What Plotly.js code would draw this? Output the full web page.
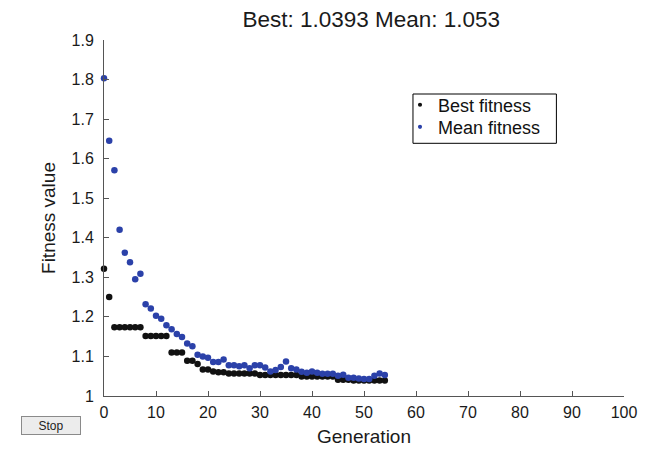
<!DOCTYPE html>
<html>
<head>
<meta charset="utf-8">
<script src="https://cdn.plot.ly/plotly-3.0.1.min.js"></script>
<style>html,body{margin:0;padding:0;background:#fff;}#chart{width:654px;height:453px;}</style>
</head>
<body>
<div id="chart"></div>
<script>
// Generations 0..54
const generations = [];
for (let g = 0; g <= 54; g++) generations.push(g);

const bestFitness = [
  1.322, 1.250,
  1.174, 1.174, 1.174, 1.174, 1.174, 1.174,
  1.152, 1.152, 1.152, 1.152, 1.152,
  1.110, 1.110, 1.110,
  1.089, 1.089,
  1.081,
  1.067, 1.067,
  1.062,
  1.060, 1.060,
  1.057, 1.057, 1.057, 1.057, 1.057, 1.057,
  1.053, 1.053, 1.053, 1.053, 1.053, 1.053, 1.053, 1.053,
  1.049, 1.049, 1.049, 1.049, 1.049, 1.049, 1.049,
  1.041, 1.041, 1.041,
  1.0393, 1.0393, 1.0393, 1.0393, 1.0393, 1.0393, 1.0393
];

const meanFitness = [
  1.803, 1.645, 1.571, 1.420, 1.362, 1.338, 1.295, 1.309, 1.232, 1.221,
  1.203, 1.195, 1.179, 1.169, 1.157, 1.149, 1.133, 1.126, 1.104, 1.100,
  1.097, 1.086, 1.086, 1.092, 1.078, 1.078, 1.075, 1.078, 1.070, 1.078,
  1.078, 1.072, 1.062, 1.066, 1.073, 1.087, 1.070, 1.067, 1.061, 1.059,
  1.062, 1.059, 1.056, 1.056, 1.056, 1.051, 1.054, 1.046, 1.046, 1.044,
  1.043, 1.043, 1.051, 1.057, 1.053
];

const seriesNames = ['Best fitness', 'Mean fitness'];
const chartTitle = 'Best: 1.0393 Mean: 1.053';
const xTicks = [0, 10, 20, 30, 40, 50, 60, 70, 80, 90, 100];
const yTicks = [1, 1.1, 1.2, 1.3, 1.4, 1.5, 1.6, 1.7, 1.8, 1.9];
const yTickText = ['1', '1.1', '1.2', '1.3', '1.4', '1.5', '1.6', '1.7', '1.8', '1.9'];

const BLACK = '#111111';
const BLUE = '#2b41a9';
const FONT = 'Liberation Sans, Arial, Helvetica, sans-serif';
const TEXT = '#1a1a1a';

const traces = [
  {x: generations, y: bestFitness, mode: 'markers', type: 'scatter', name: seriesNames[0],
   showlegend: false, marker: {color: BLACK, size: 6.5}, cliponaxis: false},
  {x: generations, y: meanFitness, mode: 'markers', type: 'scatter', name: seriesNames[1],
   showlegend: false, marker: {color: BLUE, size: 6.5}, cliponaxis: false}
];

const axisCommon = {
  showgrid: false, zeroline: false, showline: true, linecolor: '#555', linewidth: 1,
  ticks: 'inside', ticklen: 5, tickcolor: '#555', tickwidth: 1,
  tickfont: {family: FONT, size: 16, color: TEXT}, mirror: false
};

// legend box geometry (paper coords)
const LX0 = 0.5942, LX1 = 0.870, LY0 = 0.7098, LY1 = 0.8483;
const legendRowsY = [0.816, 0.754];
const legendColors = [BLACK, BLUE];

const shapes = [
  {type: 'rect', xref: 'paper', yref: 'paper', x0: LX0, x1: LX1, y0: LY0, y1: LY1,
   line: {color: '#000', width: 1}, fillcolor: '#fff', layer: 'above'}
];
const annotations = [];
seriesNames.forEach((name, i) => {
  const cy = legendRowsY[i] + 0.002;
  shapes.push({type: 'circle', xref: 'paper', yref: 'paper',
    x0: 0.6077 - 0.0040, x1: 0.6077 + 0.0040, y0: cy - 0.0058, y1: cy + 0.0058,
    fillcolor: legendColors[i], line: {width: 0}, layer: 'above'});
  annotations.push({text: name, xref: 'paper', yref: 'paper', x: 0.6392, y: legendRowsY[i],
    xanchor: 'left', yanchor: 'middle', showarrow: false,
    font: {family: FONT, size: 18, color: '#111'}});
});
annotations.push({
  text: 'Stop', xref: 'paper', yref: 'paper', x: -0.101, y: -0.0829,
  xanchor: 'center', yanchor: 'middle', showarrow: false,
  font: {family: FONT, size: 12, color: '#222'},
  bgcolor: '#ececec', bordercolor: '#8a8a8a', borderwidth: 1, width: 56, height: 15
});

const layout = {
  width: 654, height: 453,
  margin: {l: 104, r: 30, t: 40, b: 57},
  paper_bgcolor: '#fff', plot_bgcolor: '#fff',
  font: {family: FONT, color: TEXT},
  showlegend: false,
  title: {text: chartTitle, font: {family: FONT, size: 22.5, color: TEXT},
          x: 0.514, xref: 'paper', xanchor: 'center', yref: 'container', y: 0.958, yanchor: 'middle'},
  xaxis: Object.assign({}, axisCommon, {
    range: [0, 100], tickvals: xTicks, ticktext: xTicks.map(String), ticklabelstandoff: 2,
    title: {text: 'Generation', font: {family: FONT, size: 19, color: TEXT}, standoff: 9}
  }),
  yaxis: Object.assign({}, axisCommon, {
    range: [1, 1.9], tickvals: yTicks, ticktext: yTickText, ticklabelstandoff: 6,
    title: {text: 'Fitness value', font: {family: FONT, size: 19, color: TEXT}, standoff: 10}
  }),
  shapes: shapes,
  annotations: annotations
};

Plotly.newPlot('chart', traces, layout, {displayModeBar: false, staticPlot: true});
</script>
</body>
</html>
